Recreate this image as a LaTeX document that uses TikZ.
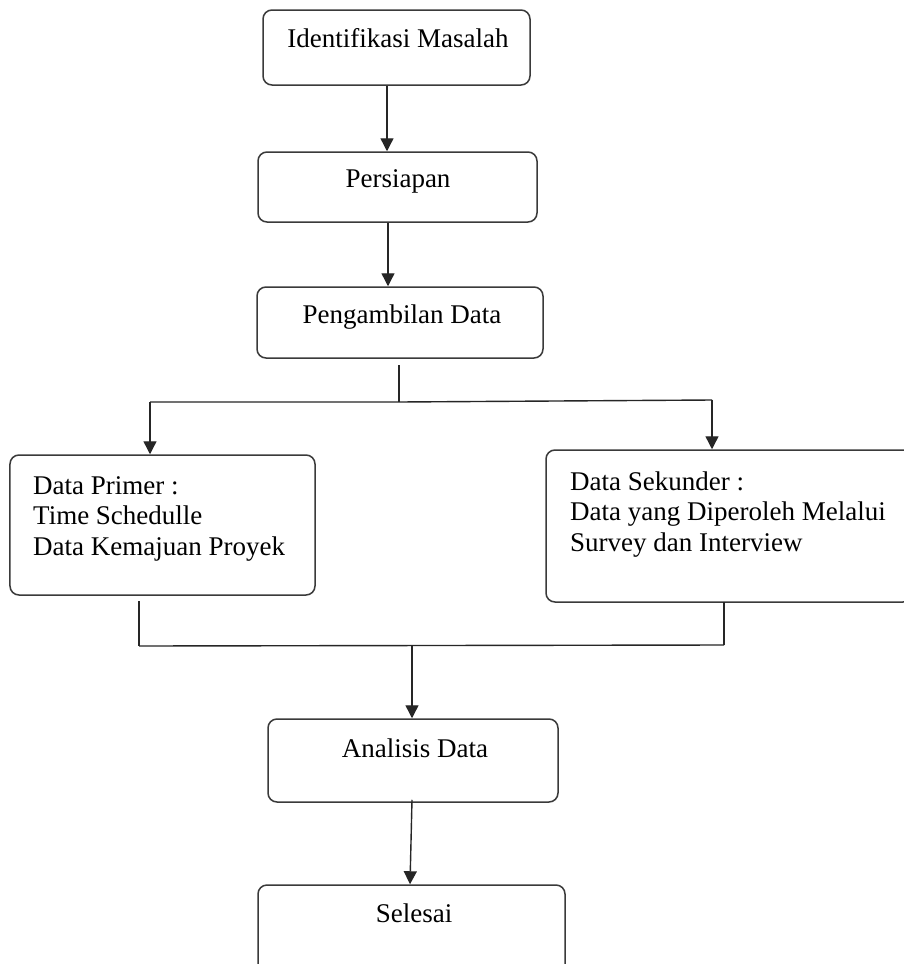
\documentclass[tikz,border=0pt]{standalone}
\usepackage{fontspec}
\setmainfont{Liberation Serif}
\usetikzlibrary{arrows.meta}
\definecolor{boxline}{HTML}{3A3A3A}
\begin{document}
\begin{tikzpicture}[x=1bp,y=-1bp,
  box/.style={draw=boxline,line width=1.5bp,rounded corners=9bp,inner sep=0pt},
  txt/.style={font=\fontsize{27bp}{30.5bp}\selectfont,inner sep=0pt,text=black},
  mtxt/.style={txt,align=left},
  conn/.style={draw=black!85,line width=1.4bp},
  arr/.style={conn,-{Triangle[width=13bp,length=13bp]}}]
\useasboundingbox (0,0) rectangle (904,964);
\fill[white] (0,0) rectangle (904,964);
% boxes
\node[box,minimum width=267bp,minimum height=75bp] (b1) at (396.5,47.5) {};
\node[box,minimum width=279bp,minimum height=70bp] (b2) at (397.5,187) {};
\node[box,minimum width=286bp,minimum height=71bp] (b3) at (400,322.5) {};
\node[box,minimum width=305bp,minimum height=140bp] (b4) at (162.5,525) {};
\node[box,minimum width=366bp,minimum height=152bp] (b5) at (729,526) {};
\node[box,minimum width=290bp,minimum height=83bp] (b6) at (413,760.5) {};
\node[box,minimum width=307bp,minimum height=90bp] (b7) at (411.5,930) {};
% texts
\node[txt,anchor=base] (t1) at (398,47) {Identifikasi Masalah};
\node[txt,anchor=base] (t2) at (398,187) {Persiapan};
\node[txt,anchor=base] (t3) at (402,323) {Pengambilan Data};
\node[mtxt,anchor=base west] (t4) at (33,555) {Data Primer :\\Time Schedulle\\Data Kemajuan Proyek};
\node[mtxt,anchor=base west] (t5) at (570,551) {Data Sekunder :\\Data yang Diperoleh Melalui\\Survey dan Interview};
\node[txt,anchor=base] (t6) at (415,757) {Analisis Data};
\node[txt,anchor=base] (t7) at (414,922) {Selesai};
% junction coordinates
\coordinate (s3) at (399,365);
\coordinate (j1) at (399,402);
\coordinate (l1) at (150,402);
\coordinate (r1) at (712,400);
\coordinate (s4) at (139,601);
\coordinate (l2) at (139,646);
\coordinate (s5) at (724,602);
\coordinate (r2) at (724,645);
\coordinate (j2) at (412,645);
% connectors
\draw[arr] (b1.south -| 387,0) -- (b2.north -| 387,0);
\draw[arr] (b2.south -| 388,0) -- (b3.north -| 388,0);
\draw[conn] (s3) -- (j1);
\draw[conn] (l1) -- (j1) -- (r1);
\draw[arr] (l1) -- (b4.north -| l1);
\draw[arr] (r1) -- (b5.north -| r1);
\draw[conn] (s4) -- (l2);
\draw[conn] (s5) -- (r2);
\draw[conn] (l2) -- (r2);
\draw[arr] (j2) -- (b6.north -| j2);
\draw[arr] ([yshift=3bp]b6.south -| 412,0) -- (b7.north -| 410,0);
\end{tikzpicture}
\end{document}
